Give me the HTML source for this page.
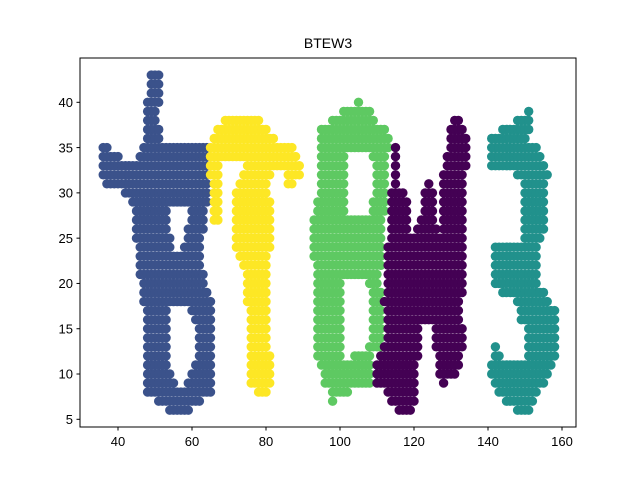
<!DOCTYPE html>
<html><head><meta charset="utf-8"><style>
body{margin:0;background:#fff;}
svg text{font-family:"Liberation Sans","DejaVu Sans",sans-serif;}
</style></head><body>
<svg id="chart" width="640" height="480" viewBox="0 0 640 480" xmlns="http://www.w3.org/2000/svg">
<rect width="640" height="480" fill="#fff"/>
<text x="328" y="48" font-size="14" text-anchor="middle">BTEW3</text>
<g id="marks"></g>
<rect x="80" y="58" width="496" height="369" fill="none" stroke="#000" stroke-width="1"/>
<g id="axes"></g>
</svg>
<script>
// rows: [y, x1start, x1end, x2start, x2end, ...]
const seriesNames = ['B', 'T', 'E', 'W', '3'];
const seriesColors = ['#3b528b', '#fde725', '#5ec962', '#440154', '#21918c'];
const rowsB = [
 [43,49,51],[42,49,51],[41,49,51],[40,48,51],[39,48,50],[38,48,50],[37,48,51],[36,48,51],
 [35,36,37,47,64],[34,36,40,46,64],[33,36,64],[32,36,64],[31,37,64],[30,42,64],[29,44,64],
 [28,45,53,60,63],[27,45,53,60,63],[26,45,53,59,63],[25,45,54,59,62],[24,46,54,58,62],
 [23,46,62],[22,46,62],[21,46,63],[20,47,63],[19,47,64],[18,47,65],
 [17,48,53,60,65],[16,48,53,61,65],[15,48,53,62,65],[14,48,53,62,65],[13,48,53,62,65],
 [12,48,53,62,65],[11,48,53,61,65],[10,48,54,60,65],[9,48,55,59,65],
 [8,48,65],[7,51,62],[6,54,59]
];
const rowsT = [
 [38,69,78],[37,67,80],[36,66,82],[35,65,87],[34,65,88],[33,65,67,75,89],[32,65,67,74,81,86,89],
 [31,66,67,73,80,86,87],[30,66,67,72,80],[29,66,67,72,81],[28,66,67,72,81],[27,66,67,72,81],
 [26,72,81],[25,72,81],[24,72,81],[23,73,80],[22,74,80],[21,75,80],[20,75,80],[19,75,80],
 [18,75,80],[17,76,80],[16,76,80],[15,76,80],[14,76,80],[13,76,80],[12,76,81],[11,76,81],
 [10,76,81],[9,76,81],[8,78,80]
];
const rowsE = [
 [40,105,105],[39,101,108],[38,98,109],[37,95,112],[36,95,113],[35,95,113],
 [34,95,101,109,112],[33,95,101,110,112],[32,95,101,110,112],[31,95,101,110,112],
 [30,95,101,110,112],[29,94,101,109,112],[28,94,101,109,112],
 [27,93,111],[26,93,111],[25,93,111],[24,93,111],[23,93,111],[22,94,111],[21,94,110],
 [20,94,100,108,110],[19,94,100,109,111],[18,94,100,109,111],[17,94,100,109,111],
 [16,94,100,109,111],[15,94,100,109,111],[14,94,100,109,111],[13,94,100,108,111],
 [12,94,100,104,108],[11,95,108],[10,96,108],[9,96,108],[8,98,102],[7,98,98]
];
const rowsW = [
 [38,131,132],[37,130,133],[36,130,134],[35,115,115,130,134],[34,115,115,129,134],
 [33,115,115,129,134],[32,115,115,128,133],[31,115,115,124,124,128,133],
 [30,114,117,123,125,128,133],[29,114,118,123,125,128,133],[28,114,118,123,125,128,133],
 [27,114,118,122,125,128,133],[26,114,118,121,126,128,133],[25,114,133],
 [24,113,133],[23,113,133],[22,113,133],[21,113,133],[20,113,133],[19,113,133],[18,112,132],
 [17,113,132],[16,113,132],[15,113,121,126,133],[14,113,121,126,133],[13,112,121,126,133],
 [12,111,121,127,132],[11,110,120,127,132],[10,110,120,127,131],[9,110,120,128,128],
 [8,113,120],[7,114,120],[6,116,119]
];
const rows3 = [
 [39,151,151],[38,148,151],[37,144,151],[36,141,150],[35,141,153],[34,141,154],[33,141,155],
 [32,148,156],[31,150,155],[30,150,155],[29,150,155],[28,150,155],[27,150,155],[26,150,155],
 [25,150,154],[24,142,153],[23,142,153],[22,142,153],[21,142,153],[20,142,153],[19,144,155],
 [18,148,156],[17,149,158],[16,149,158],[15,151,158],[14,151,158],[13,142,142,151,158],
 [12,142,143,151,158],[11,141,157],[10,141,156],[9,142,155],[8,143,153],[7,145,152],[6,148,151]
];
const allRows = [rowsB, rowsT, rowsE, rowsW, rows3];
const xTicks = [40, 60, 80, 100, 120, 140, 160];
const yTicks = [5, 10, 15, 20, 25, 30, 35, 40];

const NS = 'http://www.w3.org/2000/svg';
function sx(v){ return 118 + (v - 40) * 3.7; }
function sy(v){ return 419.3 - (v - 5) * 9.057; }

const marks = document.getElementById('marks');
allRows.forEach((rows, si) => {
  const g = document.createElementNS(NS, 'g');
  
  
  g.setAttribute('fill', seriesColors[si]);
  rows.forEach(r => {
    const y = r[0];
    for (let k = 1; k + 1 < r.length; k += 2) {
      for (let x = r[k]; x <= r[k + 1]; x++) {
        const c = document.createElementNS(NS, 'circle');
        
        
        c.setAttribute('cx', sx(x).toFixed(1));
        c.setAttribute('cy', sy(y).toFixed(1));
        c.setAttribute('r', '4.7');
        g.appendChild(c);
      }
    }
  });
  marks.appendChild(g);
});

const axes = document.getElementById('axes');
xTicks.forEach(t => {
  const l = document.createElementNS(NS, 'line');
  
  
  l.setAttribute('x1', sx(t)); l.setAttribute('x2', sx(t));
  l.setAttribute('y1', 427); l.setAttribute('y2', 430.5);
  l.setAttribute('stroke', '#000');
  axes.appendChild(l);
  const tx = document.createElementNS(NS, 'text');
  
  
  tx.setAttribute('x', sx(t)); tx.setAttribute('y', 446);
  tx.setAttribute('font-size', '13'); tx.setAttribute('text-anchor', 'middle');
  tx.textContent = t;
  axes.appendChild(tx);
});
yTicks.forEach(t => {
  const l = document.createElementNS(NS, 'line');
  
  
  l.setAttribute('x1', 76.5); l.setAttribute('x2', 80);
  l.setAttribute('y1', sy(t)); l.setAttribute('y2', sy(t));
  l.setAttribute('stroke', '#000');
  axes.appendChild(l);
  const tx = document.createElementNS(NS, 'text');
  
  
  tx.setAttribute('x', 73); tx.setAttribute('y', sy(t) + 4.7);
  tx.setAttribute('font-size', '13'); tx.setAttribute('text-anchor', 'end');
  tx.textContent = t;
  axes.appendChild(tx);
});
</script>
</body></html>
